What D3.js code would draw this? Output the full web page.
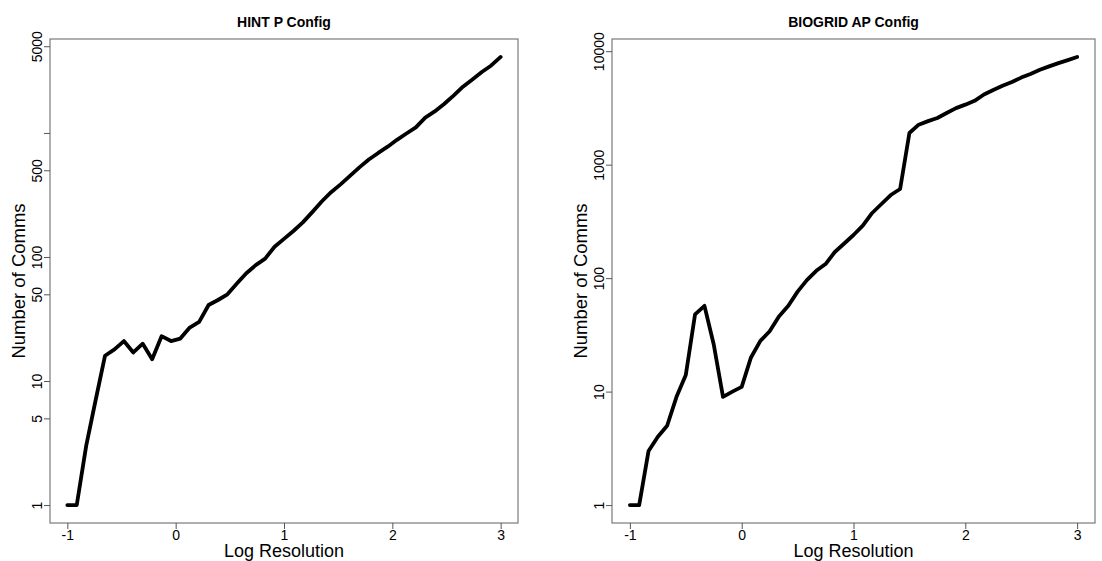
<!DOCTYPE html>
<html>
<head>
<meta charset="utf-8">
<script src="https://cdn.jsdelivr.net/npm/d3@7"></script>
<style>
  body { margin: 0; background: #fff; }
  svg text { font-family: "Liberation Sans", Arial, Helvetica, sans-serif; fill: #000; }
</style>
</head>
<body>
<div id="svg-container"></div>
<script>
const hintRes = [-1, -0.913, -0.826, -0.739, -0.652, -0.565, -0.478, -0.391, -0.304, -0.217,
  -0.13, -0.043, 0.043, 0.13, 0.217, 0.304, 0.391, 0.478, 0.565, 0.652,
  0.739, 0.826, 0.913, 1, 1.087, 1.174, 1.261, 1.348, 1.435, 1.522,
  1.609, 1.696, 1.783, 1.87, 1.957, 2.043, 2.13, 2.217, 2.304, 2.391,
  2.478, 2.565, 2.652, 2.739, 2.826, 2.913, 3]
const hintComms = [1, 1, 3, 7, 16, 18, 21, 17, 20, 15,
  23, 21, 22, 27, 30, 41, 45, 50, 61, 74,
  86, 97, 121, 140, 162, 190, 230, 280, 333, 385,
  450, 528, 610, 690, 775, 880, 990, 1110, 1330, 1490,
  1710, 2000, 2360, 2700, 3100, 3500, 4100]

const biogridRes = [-1, -0.917, -0.833, -0.75, -0.667, -0.583, -0.5, -0.417, -0.333, -0.25,
  -0.167, -0.083, 0, 0.083, 0.167, 0.25, 0.333, 0.417, 0.5, 0.583,
  0.667, 0.75, 0.833, 0.917, 1, 1.083, 1.167, 1.25, 1.333, 1.417,
  1.5, 1.583, 1.667, 1.75, 1.833, 1.917, 2, 2.083, 2.167, 2.25,
  2.333, 2.417, 2.5, 2.583, 2.667, 2.75, 2.833, 2.917, 3]
const biogridComms = [1, 1, 3, 4, 5, 9, 14, 48, 57, 26,
  9, 10, 11, 20, 28, 34, 46, 57, 76, 96,
  116, 133, 170, 202, 240, 290, 375, 450, 540, 610,
  1900, 2250, 2420, 2580, 2850, 3150, 3380, 3650, 4150, 4550,
  4950, 5350, 5850, 6300, 6850, 7350, 7850, 8350, 8900]

const xTicks = [-1, 0, 1, 2, 3]
const xTickLabels = ['-1', '0', '1', '2', '3']
const hintTicks = [1, 5, 10, 50, 100, 500, 1000, 5000]
const hintTickLabels = ['1', '5', '10', '50', '100', '500', '', '5000']
const biogridTicks = [1, 10, 100, 1000, 10000]
const biogridTickLabels = ['1', '10', '100', '1000', '10000']

const width = 1102
const height = 561

const svg = d3.select('#svg-container').append('svg')
  .attr('width', width)
  .attr('height', height)

// R style: pad the data range by 4% on each side
function padded(ext) {
  const d = (ext[1] - ext[0]) * 0.04
  return [ext[0] - d, ext[1] + d]
}

function drawPanel(p) {
  const g = svg.append('g')

  const x = d3.scaleLinear()
    .domain(padded(d3.extent(p.xs)))
    .range([p.left, p.right])

  const logExt = padded(d3.extent(p.ys).map(Math.log10))
  const y = d3.scaleLog()
    .domain([10 ** logExt[0], 10 ** logExt[1]])
    .range([p.bottom, p.top])

  // box
  g.append('rect')
    .attr('x', p.left)
    .attr('y', p.top)
    .attr('width', p.right - p.left)
    .attr('height', p.bottom - p.top)
    .attr('fill', 'none')
    .attr('stroke', '#7a7a7a')
    .attr('stroke-width', 1.2)

  const xAxis = g.append('g')
    .attr('transform', `translate(0,${p.bottom})`)
    .call(d3.axisBottom(x).tickValues(xTicks).tickFormat((d, i) => xTickLabels[i]).tickSize(6).tickPadding(1))
  xAxis.select('.domain').remove()
  xAxis.selectAll('line').attr('stroke', '#555')
  xAxis.selectAll('text').attr('font-size', 14).attr('font-family', null)

  const yAxis = g.append('g')
    .attr('transform', `translate(${p.left},0)`)
    .call(d3.axisLeft(y).tickValues(p.ticks).tickFormat((d, i) => p.tickLabels[i]).tickSize(6))
  yAxis.select('.domain').remove()
  yAxis.selectAll('line').attr('stroke', '#555')
  yAxis.selectAll('text')
    .attr('font-size', 14)
    .attr('font-family', null)
    .attr('x', null)
    .attr('dy', null)
    .attr('text-anchor', 'middle')
    .attr('transform', 'translate(-8,0) rotate(-90)')

  const line = d3.line()
    .x((d, i) => x(p.xs[i]))
    .y(d => y(d))

  g.append('path')
    .datum(p.ys)
    .attr('d', line)
    .attr('fill', 'none')
    .attr('stroke', '#000')
    .attr('stroke-width', 3.8)
    .attr('stroke-linejoin', 'round')
    .attr('stroke-linecap', 'round')

  const cx = (p.left + p.right) / 2
  g.append('text')
    .attr('x', cx)
    .attr('y', 27)
    .attr('text-anchor', 'middle')
    .attr('font-size', 14)
    .attr('font-weight', 'bold')
    .text(p.title)

  g.append('text')
    .attr('x', cx)
    .attr('y', 557)
    .attr('text-anchor', 'middle')
    .attr('font-size', 18)
    .text('Log Resolution')

  g.append('text')
    .attr('transform', `translate(${p.left - 25},${(p.top + p.bottom) / 2}) rotate(-90)`)
    .attr('text-anchor', 'middle')
    .attr('font-size', 18.5)
    .text('Number of Comms')
}

drawPanel({
  title: 'HINT P Config',
  xs: hintRes, ys: hintComms,
  ticks: hintTicks, tickLabels: hintTickLabels,
  left: 50, right: 518, top: 39, bottom: 523,
})

drawPanel({
  title: 'BIOGRID AP Config',
  xs: biogridRes, ys: biogridComms,
  ticks: biogridTicks, tickLabels: biogridTickLabels,
  left: 612, right: 1095, top: 39, bottom: 523,
})
</script>
</body>
</html>
